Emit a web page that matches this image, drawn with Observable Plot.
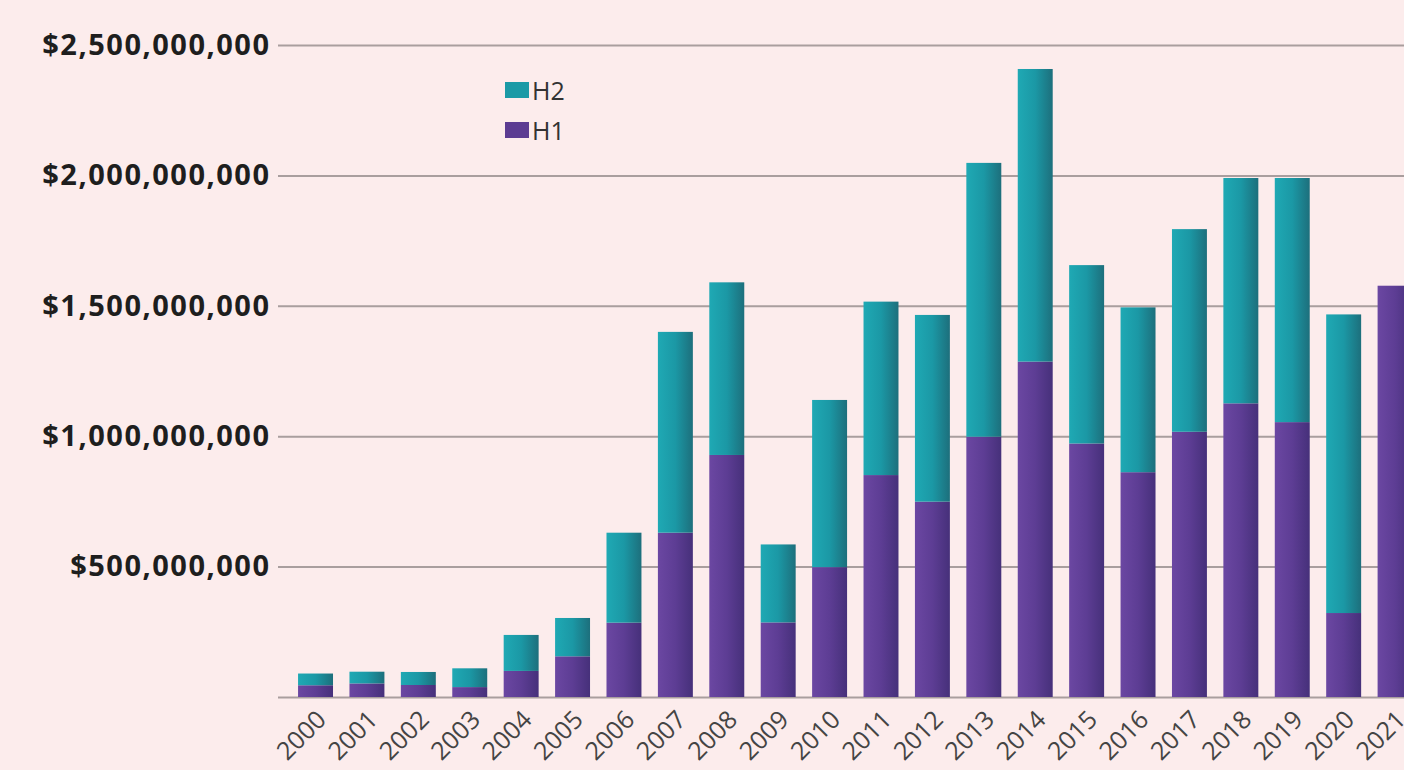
<!DOCTYPE html>
<html>
<head>
<meta charset="utf-8">
<script src="https://cdn.jsdelivr.net/npm/d3@7"></script>
<script src="https://cdn.jsdelivr.net/npm/@observablehq/plot@0.6"></script>
<style>
  html, body { margin: 0; padding: 0; background: #fcecec; }
  #wrap { position: relative; width: 1404px; height: 770px; overflow: hidden; }
  #legend { position: absolute; left: 505px; top: 70px; font-family: "Open Sans", sans-serif; font-size: 25px; color: #333; line-height: 40px; }
  #legend .item { display: flex; align-items: center; height: 40px; }
  #legend .sw { width: 24px; height: 16px; margin-right: 3px; }
  svg text { }
</style>
</head>
<body>
<div id="wrap"><div id="legend"></div></div>
<script>
const years = ["2000","2001","2002","2003","2004","2005","2006","2007","2008","2009","2010",
               "2011","2012","2013","2014","2015","2016","2017","2018","2019","2020","2021"];
// values in billions of dollars
const h1 = [0.045,0.052,0.046,0.038,0.100,0.156,0.285,0.630,0.928,0.286,0.498,
            0.851,0.749,0.998,1.286,0.972,0.862,1.017,1.126,1.054,0.322,1.577];
const h2 = [0.045,0.045,0.050,0.072,0.138,0.147,0.345,0.770,0.662,0.299,0.641,
            0.665,0.716,1.050,1.122,0.684,0.632,0.777,0.864,0.936,1.145,0.000];
const yTicks = [0, 500000000, 1000000000, 1500000000, 2000000000, 2500000000];
const seriesNames = ["H2", "H1"];
const seriesColors = ["#1b9aa6", "#5c3c92"];

const data = years.map((y, i) => ({
  year: y,
  h1: h1[i] * 1e9,
  top: (h1[i] + h2[i]) * 1e9
}));

const fmt = d3.format("$,");

const chart = Plot.plot({
  width: 1404,
  height: 770,
  marginTop: 45,
  marginBottom: 73,
  marginLeft: 278,
  marginRight: 0,
  style: { background: "#fcecec", fontFamily: "Open Sans, sans-serif", overflow: "visible" },
  x: { domain: years, range: [281.6, 1429], padding: 0.32, round: false, label: null },
  y: { domain: [0, 2.5e9], label: null },
  marks: [
    Plot.ruleY(yTicks, { stroke: "#a99e9e", strokeWidth: 2 }),
    Plot.barY(data, { x: "year", y1: 0, y2: "h1", fill: "url(#gradH1)" }),
    Plot.barY(data.filter(d => d.top > d.h1), { x: "year", y1: "h1", y2: "top", fill: "url(#gradH2)" }),
    Plot.axisY(yTicks.filter(d => d > 0), {
      tickSize: 0, tickPadding: 8, tickFormat: fmt,
      fontSize: 29, fontWeight: "bold", fill: "#1e1e1e"
    }),
    Plot.axisX({
      tickSize: 0, tickPadding: 6, tickRotate: -45,
      fontSize: 25, fill: "#444", dx: 6, dy: 12
    })
  ]
});

// letter spacing on the y tick labels to match the wider reference type
chart.querySelectorAll('g[aria-label="y-axis tick label"] text').forEach(t => t.setAttribute("letter-spacing", "1.5"));

// gradients for bar shading
const ns = "http://www.w3.org/2000/svg";
const defs = document.createElementNS(ns, "defs");
function grad(id, stops) {
  const g = document.createElementNS(ns, "linearGradient");
  g.setAttribute("id", id);
  g.setAttribute("x1", "0"); g.setAttribute("x2", "1");
  g.setAttribute("y1", "0"); g.setAttribute("y2", "0");
  stops.forEach(([o, c]) => {
    const s = document.createElementNS(ns, "stop");
    s.setAttribute("offset", o); s.setAttribute("stop-color", c);
    g.appendChild(s);
  });
  defs.appendChild(g);
}
grad("gradH2", [[0, "#1fa9b4"], [0.5, "#1b98a5"], [1, "#1d6f7c"]]);
grad("gradH1", [[0, "#6b47a2"], [0.5, "#5d3d94"], [1, "#46307a"]]);
chart.insertBefore(defs, chart.firstChild);

document.getElementById("wrap").insertBefore(chart, document.getElementById("legend"));

const legend = document.getElementById("legend");
seriesNames.forEach((n, i) => {
  const item = document.createElement("div");
  item.className = "item";
  const sw = document.createElement("span");
  sw.className = "sw";
  sw.style.background = seriesColors[i];
  const t = document.createElement("span");
  t.textContent = n;
  item.appendChild(sw); item.appendChild(t);
  legend.appendChild(item);
});
</script>
</body>
</html>
